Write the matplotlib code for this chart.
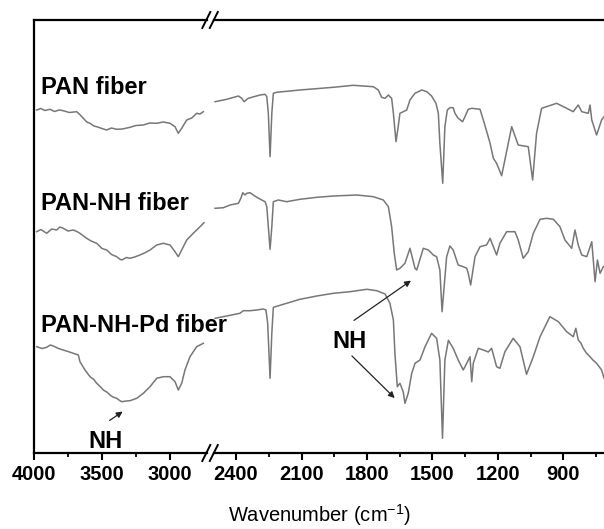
import numpy as np
import matplotlib.pyplot as plt
from matplotlib.ticker import FixedLocator

plt.rcParams.update(
    {
        "font.family": ["Liberation Sans", "DejaVu Sans"],
        "mathtext.fontset": "custom",
        "mathtext.rm": "Liberation Sans",
    }
)

# ---- data (wavenumber in cm-1, signal in a.u.) ----
# high wavenumber part (4000-2725)
pan_hi_w = [3980, 3950, 3920, 3882, 3850, 3815, 3785, 3740, 3686, 3660, 3637,
            3612, 3588, 3560, 3539, 3500, 3467, 3430, 3392, 3350, 3294, 3250,
            3196, 3150, 3098, 3050, 3000, 2963, 2939, 2914, 2877, 2840, 2804,
            2780, 2755]
pan_hi_v = [343, 344.5, 342.5, 343.7, 341.5, 343, 342.3, 340.5, 341.3, 338,
            334.7, 331, 329.7, 327, 326.3, 324.5, 323, 325, 323.7, 324, 325.7,
            327.5, 328, 330, 329.7, 331, 329.7, 326.3, 319.7, 324.7, 333, 335,
            339.7, 339, 341.3]

panh_hi_w = [3980, 3950, 3907, 3870, 3833, 3810, 3785, 3750, 3711, 3685, 3662,
             3613, 3580, 3539, 3500, 3465, 3430, 3392, 3370, 3355, 3320, 3294,
             3260, 3221, 3180, 3147, 3098, 3049, 3000, 2963, 2939, 2914, 2877,
             2829, 2779, 2750]
panh_hi_v = [221.3, 223.5, 219.7, 224, 223, 226, 224.7, 222, 223, 221.5,
             219.7, 214.7, 212, 209.7, 204.5, 203, 198.5, 196.3, 194, 193,
             195.5, 194.7, 196, 198, 200.5, 203, 208, 209.7, 208, 201.3, 196.3,
             203, 213, 219.7, 226.3, 230.3]

pd_hi_w = [3980, 3940, 3907, 3880, 3858, 3820, 3785, 3750, 3711, 3674, 3662,
           3625, 3588, 3560, 3539, 3510, 3490, 3460, 3441, 3420, 3392, 3370,
           3355, 3320, 3294, 3245, 3196, 3147, 3098, 3049, 3000, 2963, 2939,
           2914, 2890, 2853, 2804, 2755]
pd_hi_v = [106.3, 104.5, 105.7, 108, 107, 104.5, 103, 101.5, 99.7, 98, 91.3,
           83, 76.3, 73.5, 69.7, 66, 63, 60.5, 58, 56, 54.7, 52.5, 51.3, 52,
           52.3, 54.7, 59.7, 66.3, 74.7, 76.3, 76.3, 71.3, 63, 69.7, 83, 96.3,
           106.3, 109.7]

# low wavenumber part (2500-714)
pan_lo_w = [2496, 2443, 2389, 2374, 2363, 2344, 2290, 2267, 2259, 2252, 2244,
            2236, 2229, 2214, 2107, 1954, 1863, 1771, 1748, 1733, 1717, 1702,
            1687, 1679, 1667, 1657, 1649, 1634, 1618, 1603, 1580, 1549, 1526,
            1504, 1484, 1473, 1466, 1453, 1443, 1432, 1420, 1405, 1397, 1382,
            1362, 1351, 1336, 1320, 1282, 1267, 1249, 1236, 1221, 1206, 1183,
            1137, 1107, 1061, 1041, 1023, 1000, 931, 885, 855, 832, 816, 786,
            778, 770, 748, 725, 714]
pan_lo_v = [351.3, 353.7, 357, 354.7, 351.3, 354.7, 358, 358.7, 356.3, 339.7,
            296.3, 339.7, 359.7, 360.7, 363, 365.7, 367.7, 366.3, 363, 355.7,
            354.7, 358, 354.7, 339.7, 311.3, 326.3, 339.7, 341.3, 343, 353,
            359.7, 363, 361.3, 357, 349.7, 339.7, 309.7, 269.7, 326.3, 343,
            345.3, 345.3, 339.7, 334.7, 331.3, 336.3, 343.7, 344.7, 343.7, 333,
            319.7, 309.7, 294.7, 289.7, 277.3, 326.3, 308, 306.3, 273, 319.7,
            344.7, 349.7, 344.7, 341.3, 348, 341.3, 339.7, 348, 333, 318, 333,
            336.3]

panh_lo_w = [2496, 2458, 2427, 2389, 2378, 2369, 2359, 2351, 2336, 2321, 2305,
             2282, 2267, 2259, 2252, 2244, 2236, 2229, 2206, 2168, 2107, 2030,
             1954, 1847, 1771, 1725, 1702, 1687, 1675, 1664, 1649, 1626, 1603,
             1580, 1572, 1542, 1519, 1496, 1481, 1466, 1456, 1435, 1420, 1405,
             1382, 1359, 1343, 1336, 1325, 1305, 1282, 1252, 1236, 1221, 1206,
             1191, 1160, 1122, 1107, 1084, 1061, 1038, 1007, 977, 946, 916,
             893, 862, 847, 832, 816, 793, 770, 755, 744, 732, 717]
panh_lo_v = [244.7, 245.3, 248, 249.7, 254.7, 260.3, 258, 259.7, 260.3, 258,
             255.7, 253, 251.3, 246.3, 226.3, 203.7, 226.3, 251.3, 253, 251.3,
             253.7, 255.7, 257, 258, 256.3, 253, 246.3, 226.3, 199.7, 183,
             184.7, 189.7, 204.7, 184.7, 183, 204.7, 203, 198, 196.3, 183,
             141.3, 196.3, 207, 203, 188, 186.3, 184.7, 179.7, 168, 196.3,
             206.3, 208, 214.7, 206.3, 198, 209.7, 221.3, 221.3, 213, 194.7,
             201.3, 219.7, 233.7, 234.7, 233.7, 226.3, 213, 204.7, 223, 208,
             198, 196.3, 211.3, 171.3, 193, 179.7, 186.3]

pd_lo_w = [2496, 2443, 2382, 2367, 2336, 2305, 2275, 2263, 2255, 2244, 2236,
           2229, 2168, 2107, 2030, 1954, 1878, 1801, 1755, 1717, 1695, 1679,
           1672, 1661, 1649, 1634, 1626, 1611, 1595, 1580, 1557, 1534, 1504,
           1481, 1466, 1454, 1443, 1427, 1405, 1382, 1359, 1343, 1328, 1320,
           1313, 1290, 1267, 1244, 1229, 1206, 1191, 1168, 1130, 1099, 1069,
           1038, 1007, 962, 923, 885, 855, 843, 832, 820, 809, 795, 778, 765,
           748, 735, 725, 714]
pd_lo_v = [134.7, 137, 139.7, 142.3, 142.3, 143, 144, 143, 129.7, 74.7, 119.7,
           145.7, 149.7, 153.7, 157, 159.7, 161.3, 163.7, 162.3, 159, 149.7,
           133, 99.7, 66.3, 69.7, 61.3, 49.7, 59.7, 79.7, 89.7, 93, 106.3,
           119.7, 114.7, 93, 14.7, 93, 112.7, 104.7, 93, 83, 89.7, 96.3, 71.3,
           89.7, 104.7, 103, 101, 104.7, 86.3, 84.7, 101.3, 114.7, 106.3, 78.7,
           96.3, 116.3, 136.3, 131.3, 121.3, 116.3, 124.7, 113, 110, 104.7,
           100, 96.3, 93, 89.7, 86, 83, 75]

labels = ["PAN fiber", "PAN-NH fiber", "PAN-NH-Pd fiber"]
label_v = [366, 250, 128]

# ---- figure ----
W, H = 604, 529
fig = plt.figure(figsize=(W / 100, H / 100), dpi=100)

bot, top = (H - 453) / H, (H - 20) / H
x1a, x1b = 34 / W, 207.4 / W
x2a, x2b = 214.2 / W, 1.0
ax1 = fig.add_axes([x1a, bot, x1b - x1a, top - bot])
ax2 = fig.add_axes([x2a, bot, x2b - x2a, top - bot])

line_kw = dict(color="#777777", lw=1.1)
ax1.plot(pan_hi_w, pan_hi_v, **line_kw)
ax1.plot(panh_hi_w, panh_hi_v, **line_kw)
ax1.plot(pd_hi_w, pd_hi_v, **line_kw)
ax2.plot(pan_lo_w, pan_lo_v, **line_kw)
ax2.plot(panh_lo_w, panh_lo_v, **line_kw)
ax2.plot(pd_lo_w, pd_lo_v, **line_kw)

ax1.set_xlim(4000, 2725)
ax2.set_xlim(2500, 714)
ax1.xaxis.set_major_locator(FixedLocator([4000, 3500, 3000]))
ax1.xaxis.set_minor_locator(FixedLocator([3750, 3250]))
ax2.xaxis.set_major_locator(FixedLocator([2400, 2100, 1800, 1500, 1200, 900]))
ax2.xaxis.set_minor_locator(FixedLocator([2250, 1950, 1650, 1350, 1050, 750]))

for ax in (ax1, ax2):
    ax.set_ylim(0, 433)
    ax.set_yticks([])
    ax.patch.set_visible(False)
    ax.spines["right"].set_visible(False)
    for s in ("top", "bottom", "left"):
        ax.spines[s].set_linewidth(1.6)
    ax.tick_params(axis="x", which="major", direction="out", length=5,
                   width=1.5, labelsize=14.5, pad=4)
    ax.tick_params(axis="x", which="minor", direction="out", length=3,
                   width=1.3)
    for t in ax.get_xticklabels():
        t.set_fontweight("bold")
ax2.spines["left"].set_visible(False)

# break marks
xm = (x1b + x2a) / 2
for yy in (bot, top):
    for dx in (-4.5, 3.0):
        fig.add_artist(plt.Line2D([xm + (dx - 4) / W, xm + (dx + 4) / W],
                                  [yy - 8 / H, yy + 8 / H],
                                  color="black", lw=1.4))

# curve labels
for lab, v in zip(labels, label_v):
    ax1.text(3945, v, lab, fontsize=17, fontweight="bold", ha="left",
             va="center", clip_on=False)

# NH annotations
arrow = dict(arrowstyle="-|>", color="#222222", lw=0.9, mutation_scale=9)
ax1.text(3471, 11, "NH", fontsize=17, fontweight="bold", ha="center",
         va="center")
ax1.annotate("", xy=(3331, 43), xytext=(3461, 31), arrowprops=arrow)
ax2.text(1878, 111, "NH", fontsize=17, fontweight="bold", ha="center",
         va="center")
ax2.annotate("", xy=(1588, 174), xytext=(1870, 131), arrowprops=arrow)
ax2.annotate("", xy=(1664, 53), xytext=(1878, 99), arrowprops=arrow)

fig.text((34 + 604) / 2 / W, 1 - 515 / H, "Wavenumber (cm$^{-1}$)",
         fontsize=14.5, ha="center", va="center")

fig.savefig("out.png", dpi=100)
